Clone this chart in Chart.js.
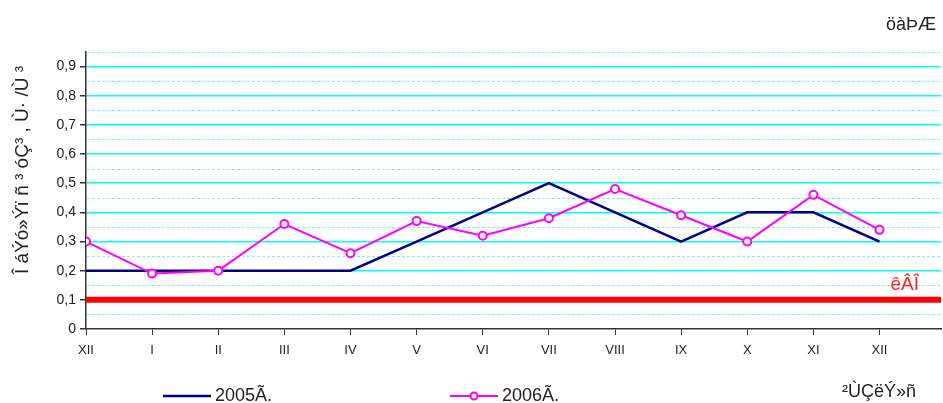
<!DOCTYPE html>
<html>
<head>
<meta charset="utf-8">
<script src="https://cdn.jsdelivr.net/npm/chart.js@4"></script>
<style>
  html, body { margin: 0; padding: 0; background: #fff; overflow: hidden; }
  #wrap { width: 947px; height: 403px; position: relative; }
</style>
</head>
<body>
<div id="wrap"><canvas id="myChart"></canvas></div>
<script>
const months = ['XII', 'I', 'II', 'III', 'IV', 'V', 'VI', 'VII', 'VIII', 'IX', 'X', 'XI', 'XII'];
const values2005 = [0.2, 0.2, 0.2, 0.2, 0.2, 0.3, 0.4, 0.5, 0.4, 0.3, 0.4, 0.4, 0.3];
const values2006 = [0.3, 0.19, 0.2, 0.36, 0.26, 0.37, 0.32, 0.38, 0.48, 0.39, 0.3, 0.46, 0.34];
const seriesNames = ['2005Ã.', '2006Ã.'];
const limitValue = 0.1;
const limitLabel = 'êÂÎ';
const yTitle = 'Î áÝó»Ýï ñ ³ óÇ³ , Ù· /Ù ³';
const xTitle = '²ÙÇëÝ»ñ';
const topLabel = 'öàÞÆ';

const X_MAX = 12.93;
const FONT = '"Liberation Sans", Arial, sans-serif';

const toPoints = arr => arr.map((v, i) => ({ x: i, y: v }));

// dashed half-step gridlines + texts + legend
const extras = {
  id: 'extras',
  beforeDatasetsDraw(chart) {
    const { ctx, chartArea: a, scales: { y } } = chart;
    ctx.save();
    ctx.strokeStyle = 'rgba(0,230,240,0.55)';
    ctx.lineWidth = 1;
    ctx.setLineDash([3, 2]);
    for (let v = 0.05; v < 0.96; v += 0.1) {
      const py = Math.round(y.getPixelForValue(v)) + 0.5;
      ctx.beginPath();
      ctx.moveTo(a.left + 1, py);
      ctx.lineTo(a.right, py);
      ctx.stroke();
    }
    ctx.restore();
  },
  afterDraw(chart) {
    const { ctx, scales: { y } } = chart;
    ctx.save();
    ctx.fillStyle = '#222';
    // y title
    ctx.save();
    ctx.translate(23, 170);
    ctx.rotate(-Math.PI / 2);
    ctx.font = '19px ' + FONT;
    ctx.textAlign = 'center';
    ctx.textBaseline = 'middle';
    ctx.fillText(yTitle, 0, 0);
    ctx.restore();
    // top right
    ctx.font = '18px ' + FONT;
    ctx.textAlign = 'right';
    ctx.textBaseline = 'middle';
    ctx.fillText(topLabel, 936, 25);
    // x title
    ctx.fillText(xTitle, 916, 392);
    // limit label
    ctx.fillStyle = '#FF2020';
    ctx.font = '19px ' + FONT;
    ctx.fillText(limitLabel, 919, y.getPixelForValue(limitValue) - 15);
    // legend
    const items = [
      { x: 163, ds: chart.data.datasets[1] },
      { x: 450, ds: chart.data.datasets[2] }
    ];
    items.forEach(it => {
      const ly = 396;
      ctx.strokeStyle = it.ds.borderColor;
      ctx.lineWidth = it.ds.borderWidth;
      ctx.beginPath();
      ctx.moveTo(it.x, ly);
      ctx.lineTo(it.x + 48, ly);
      ctx.stroke();
      if (it.ds.pointRadius > 0) {
        ctx.fillStyle = '#fff';
        ctx.lineWidth = 2;
        ctx.beginPath();
        ctx.arc(it.x + 24, ly, 3.5, 0, Math.PI * 2);
        ctx.fill();
        ctx.stroke();
      }
      ctx.fillStyle = '#222';
      ctx.font = '18px ' + FONT;
      ctx.textAlign = 'left';
      ctx.fillText(it.ds.label, it.x + 52, ly);
    });
    ctx.restore();
  }
};

const ctx = document.getElementById('myChart').getContext('2d');
const myChart = new Chart(ctx, {
  type: 'line',
  data: {
    datasets: [
      {
        label: limitLabel,
        data: [{ x: 0, y: limitValue }, { x: X_MAX, y: limitValue }],
        borderColor: '#FF0000',
        borderWidth: 6,
        pointRadius: 0,
        order: 3
      },
      {
        label: seriesNames[0],
        data: toPoints(values2005),
        borderColor: '#000080',
        borderWidth: 2.5,
        pointRadius: 0,
        tension: 0,
        order: 2
      },
      {
        label: seriesNames[1],
        data: toPoints(values2006),
        borderColor: '#FF00FF',
        borderWidth: 2,
        pointRadius: 4,
        pointBorderWidth: 2,
        pointBackgroundColor: '#fff',
        pointBorderColor: '#FF00FF',
        tension: 0,
        order: 1
      }
    ]
  },
  plugins: [extras],
  options: {
    responsive: true,
    maintainAspectRatio: false,
    animation: false,
    layout: { padding: { top: 52, right: 0, left: 0, bottom: 0 } },
    plugins: {
      legend: { display: false },
      tooltip: { enabled: false }
    },
    scales: {
      x: {
        type: 'linear',
        min: 0,
        max: X_MAX,
        afterBuildTicks: scale => { scale.ticks = months.map((m, i) => ({ value: i })); },
        afterFit: scale => { scale.height = 74; scale.paddingRight = 0; },
        ticks: {
          callback: v => months[v],
          color: '#222',
          font: { family: FONT, size: 13 },
          padding: 8,
          maxRotation: 0,
          autoSkip: false
        },
        grid: { drawOnChartArea: false, tickLength: 6, tickColor: '#333' },
        border: { color: '#333', width: 1.5 }
      },
      y: {
        min: 0,
        max: 0.95,
        afterBuildTicks: scale => {
          const t = [];
          for (let i = 0; i <= 19; i++) t.push({ value: +(i * 0.05).toFixed(2) });
          scale.ticks = t;
        },
        afterFit: scale => { scale.width = 86; },
        ticks: {
          callback: v => (Math.round(v * 100) % 10 === 0 ? (v === 0 ? '0' : v.toFixed(1).replace('.', ',')) : ''),
          color: '#222',
          font: { family: FONT, size: 14 },
          padding: 4
        },
        grid: {
          color: c => (Math.round(c.tick.value * 100) % 10 === 0 && c.tick.value > 0 ? '#00FFFF' : 'rgba(0,0,0,0)'),
          tickColor: c => (Math.round(c.tick.value * 100) % 10 === 0 ? '#333' : 'rgba(0,0,0,0)'),
          tickLength: 6,
          lineWidth: 1.5
        },
        border: { color: '#333', width: 1.5 }
      }
    }
  }
});
</script>
</body>
</html>
